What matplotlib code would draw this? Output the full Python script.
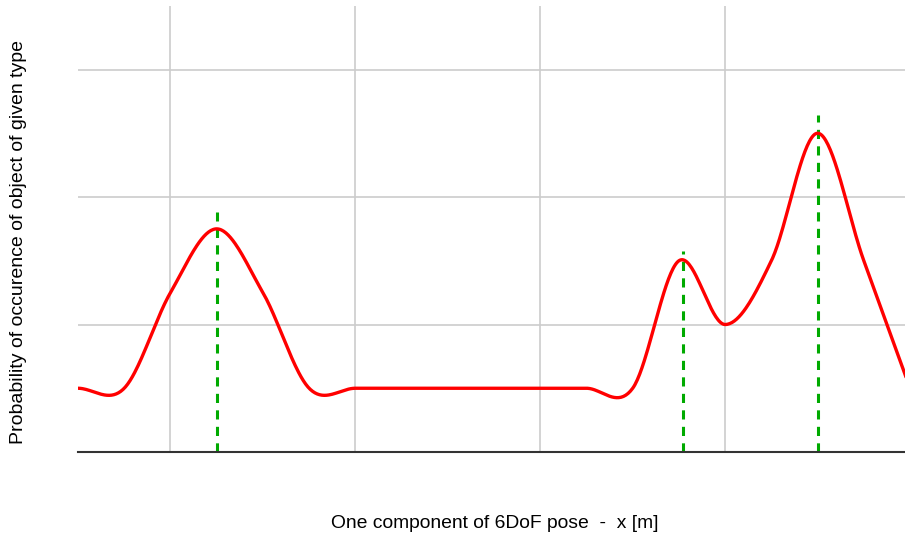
import numpy as np
import matplotlib
matplotlib.use("Agg")
import matplotlib.pyplot as plt

plt.rcParams['font.family'] = ['Liberation Sans', 'DejaVu Sans']

# data
x_vals = [0.5, 0.75, 1.0, 1.25, 1.5, 1.75, 2.0, 2.25, 2.5, 2.75, 3.0, 3.25,
          3.5, 3.75, 4.0, 4.25, 4.5, 4.75, 5.0]
y_vals = [0.5, 0.5, 1.25, 1.75, 1.25, 0.5, 0.5, 0.5, 0.5, 0.5, 0.5, 0.5,
          0.5, 1.5, 1.0, 1.5, 2.5, 1.5, 0.5]
peak_x = [1.25, 3.77, 4.5]
peak_h = [1.88, 1.58, 2.64]
x_grid = [1, 2, 3, 4]
y_grid = [1, 2, 3]
x_label = "One component of 6DoF pose  -  x [m]"
y_label = "Probability of occurence of object of given type"


def smooth_curve(x, y, n=40):
    """Cubic Hermite (Catmull-Rom style) drawing of the line through the points."""
    x = np.asarray(x, float)
    y = np.asarray(y, float)
    m = np.zeros_like(y)
    m[1:-1] = (y[2:] - y[:-2]) / (x[2:] - x[:-2])
    m[0] = (y[1] - y[0]) / (x[1] - x[0])
    m[-1] = (y[-1] - y[-2]) / (x[-1] - x[-2])
    xs, ys = [], []
    for i in range(len(x) - 1):
        h = x[i + 1] - x[i]
        t = np.linspace(0, 1, n, endpoint=(i == len(x) - 2))
        h00 = 2 * t**3 - 3 * t**2 + 1
        h10 = t**3 - 2 * t**2 + t
        h01 = -2 * t**3 + 3 * t**2
        h11 = t**3 - t**2
        xs.append(x[i] + t * h)
        ys.append(h00 * y[i] + h10 * h * m[i] + h01 * y[i + 1] + h11 * h * m[i + 1])
    return np.concatenate(xs), np.concatenate(ys)


W, H = 905, 539
fig = plt.figure(figsize=(W / 100, H / 100), dpi=100)
ax = fig.add_axes([78 / W, 1 - 452 / H, (905 - 78) / W, (452 - 6) / H])

ax.set_xlim(0.5, 0.5 + (905 - 78) / 184.9)
ax.set_ylim(0, 446 / 127.5)

for gx in x_grid:
    ax.axvline(gx, color='#cccccc', lw=1.2, zorder=1)
for gy in y_grid:
    ax.axhline(gy, color='#cccccc', lw=1.2, zorder=1)
ax.axhline(0, color='#333333', lw=1.5, zorder=4, clip_on=False)

sx, sy = smooth_curve(x_vals, y_vals)
ax.plot(sx, sy, color='#ff0000', lw=2.4, zorder=3, solid_capstyle='round')

ax.vlines(peak_x, 0, peak_h, colors='#00aa00', lw=2.2, linestyles=(0, (3.0, 2.4)), zorder=2)

for s in ax.spines.values():
    s.set_visible(False)
ax.set_xticks([])
ax.set_yticks([])

fig.text(495 / W, 1 - 524 / H, x_label, ha='center', va='center', fontsize=13.9, color='#000000')
fig.text(19 / W, 1 - 242 / H, y_label, ha='center', va='center', rotation=90, fontsize=14, color='#000000')

fig.savefig("out.png", dpi=100)
